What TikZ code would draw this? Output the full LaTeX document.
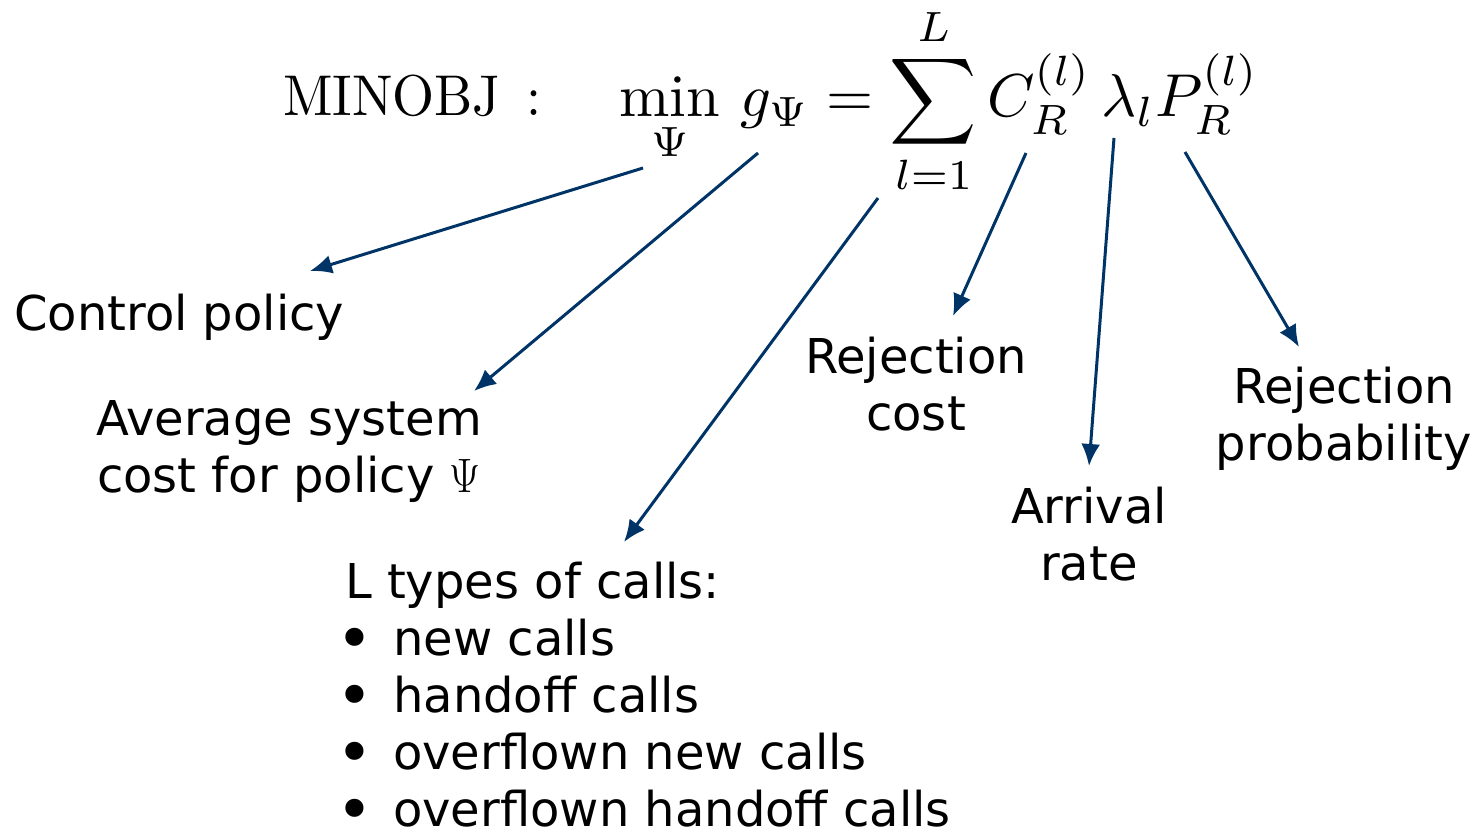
\documentclass[tikz,border=0pt]{standalone}
\usepackage{graphicx}
\usepackage{fontspec}
\newfontfamily\labfont{DejaVu Sans}
\usetikzlibrary{arrows.meta}
\definecolor{arrowblue}{RGB}{0,51,102}
\newcommand{\bigpsi}{\resizebox{31pt}{33pt}{$\Psi$}}
\newcommand{\bul}{\makebox[48pt][l]{\hspace{-8.5pt}\raisebox{-5.5pt}{\scalebox{1.3}{•}}}}
\tikzset{
  lab/.style={inner sep=0pt, font=\labfont\fontsize{48}{57}\selectfont, align=center},
  pointer/.style={draw=arrowblue, line width=3pt, -{Latex[length=22pt,width=19pt]}}
}
\begin{document}
\begin{tikzpicture}[x=1pt,y=-1pt]
\useasboundingbox (0,0) rectangle (1475,832);

% objective function
\node[anchor=base west, inner sep=0pt] (name) at (283,116)
  {\scalebox{5.4}[5.75]{\fontsize{10}{12}\selectfont $\mathrm{MINOBJ}\mkern3.6mu:$}};
\node[anchor=base west, inner sep=0pt] (obj) at (619,117)
  {\scalebox{6.05}{\fontsize{10}{12}\selectfont $\displaystyle \min_{\Psi}\, g_{\Psi} = \sum_{l=1}^{L} C_R^{(l)}\,\lambda_l P_R^{(l)}$}};

% explanatory labels (anchored at the baseline of their last line)
\node[lab, anchor=base west] (ctrl) at (14,330) {Control policy};
\node[lab, anchor=base] (avg) at (289,492) {Average system\\cost for policy \bigpsi};
\node[lab, anchor=base] (rcost) at (916,430) {Rejection\\cost};
\node[lab, anchor=base] (arr) at (1089,580) {Arrival\\rate};
\node[lab, anchor=base] (rprob) at (1344,460) {Rejection\\probability};
\node[lab, anchor=base west, align=left] (types) at (345,826)
  {L types of calls:\\
   \bul new calls\\
   \bul handoff calls\\
   \bul overflown new calls\\
   \bul overflown handoff calls};

% arrow ends
\coordinate (t1) at (643,168);  \coordinate (h1) at (310,271);
\coordinate (t2) at (758,153);  \coordinate (h2) at (474,391);
\coordinate (t3) at (878,198);  \coordinate (h3) at (624,542);
\coordinate (t4) at (1026,153); \coordinate (h4) at (953,316);
\coordinate (t5) at (1114,138); \coordinate (h5) at (1089,466);
\coordinate (t6) at (1185,152); \coordinate (h6) at (1299,347);

\draw[pointer] (t1) -- (h1);
\draw[pointer] (t2) -- (h2);
\draw[pointer] (t3) -- (h3);
\draw[pointer] (t4) -- (h4);
\draw[pointer] (t5) -- (h5);
\draw[pointer] (t6) -- (h6);
\end{tikzpicture}
\end{document}
